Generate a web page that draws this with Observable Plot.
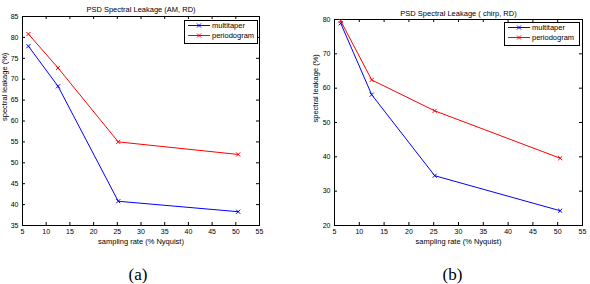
<!DOCTYPE html>
<html>
<head>
<meta charset="utf-8">
<script src="https://cdn.jsdelivr.net/npm/d3@7"></script>
<script src="https://cdn.jsdelivr.net/npm/@observablehq/plot@0.6"></script>
<style>
  html, body { margin: 0; padding: 0; background: #fff; }
  #root { position: relative; width: 590px; height: 284px; overflow: hidden; font-family: "Liberation Sans", Arial, sans-serif; }
  #root > div.panel { position: absolute; top: 0; }
  .legend { position: absolute; background: #fff; border: 1px solid #000; box-sizing: border-box; }
</style>
</head>
<body>
<div id="root"></div>
<script>
// ---- data ----
const xTicks = [5, 10, 15, 20, 25, 30, 35, 40, 45, 50, 55];
const samplingRate = [6.25, 12.5, 25.2, 50.5];

const amMultitaper = [77.9, 68.3, 40.8, 38.3];
const amPeriodogram = [80.8, 72.7, 55.0, 52.0];
const amYTicks = [35, 40, 45, 50, 55, 60, 65, 70, 75, 80, 85];

const chirpMultitaper = [78.9, 58.1, 34.5, 24.3];
const chirpPeriodogram = [79.6, 62.4, 53.4, 39.6];
const chirpYTicks = [20, 30, 40, 50, 60, 70, 80];

const seriesNames = ["multitaper", "periodogram"];
const seriesColors = ["#0000ff", "#ff0000"];

const xLabel = "sampling rate (% Nyquist)";
const yLabel = "spectral leakage (%)";
const titles = ["PSD Spectral Leakage (AM, RD)", "PSD Spectral Leakage ( chirp, RD)"];
const captions = ["(a)", "(b)"];

function makePanel(opts) {
  const {left, width, marginLeft, marginRight, marginTop, marginBottom, yTicks, series, title, caption, titleDy, yLabelDx, yLabelDy, captionDx, legend} = opts;
  const height = 284;
  const frameH = height - marginTop - marginBottom;
  const frameW = width - marginLeft - marginRight;
  const rows = [];
  series.forEach((vals, si) => {
    vals.forEach((v, i) => rows.push({x: samplingRate[i], y: v, s: seriesNames[si]}));
  });
  const yDomain = [yTicks[0], yTicks[yTicks.length - 1]];
  const font = "Liberation Sans, Arial, sans-serif";
  const plot = Plot.plot({
    width, height, marginLeft, marginRight, marginTop, marginBottom,
    style: {fontFamily: font, fontSize: "7px", background: "transparent", overflow: "visible"},
    x: {domain: [5, 55], label: null},
    y: {domain: yDomain, label: null},
    color: {domain: seriesNames, range: seriesColors},
    marks: [
      Plot.frame({stroke: "#000", strokeWidth: 1}),
      // inward ticks on all four sides
      Plot.tickX(xTicks, {x: d => d, insetTop: frameH - 3, stroke: "#000", strokeWidth: 1}),
      Plot.tickX(xTicks, {x: d => d, insetBottom: frameH - 3, stroke: "#000", strokeWidth: 1}),
      Plot.tickY(yTicks, {y: d => d, insetRight: frameW - 3, stroke: "#000", strokeWidth: 1}),
      Plot.tickY(yTicks, {y: d => d, insetLeft: frameW - 3, stroke: "#000", strokeWidth: 1}),
      Plot.axisX({ticks: xTicks, tickSize: 0, tickPadding: 4, label: null, fontSize: 7, fill: "#000"}),
      Plot.axisY({ticks: yTicks, tickSize: 0, tickPadding: 4, label: null, fontSize: 7, fill: "#000"}),
      Plot.line(rows, {x: "x", y: "y", z: "s", stroke: "s", strokeWidth: 1}),
      Plot.dot(rows, {x: "x", y: "y", stroke: "s", symbol: "times", r: 2, strokeWidth: 1}),
      Plot.text([title], {text: d => d, frameAnchor: "top", dy: titleDy, fontSize: 7.5, fill: "#000"}),
      Plot.text([xLabel], {text: d => d, frameAnchor: "bottom", dy: 18, fontSize: 7.5, fill: "#000"}),
      Plot.text([yLabel], {text: d => d, frameAnchor: "left", dx: yLabelDx, dy: yLabelDy, rotate: -90, fontSize: 7.5, fill: "#000"}),
      Plot.text([caption], {text: d => d, frameAnchor: "bottom", dx: captionDx, dy: 54, fontSize: 17, fontFamily: "Liberation Serif, Times New Roman, serif", fill: "#000"})
    ]
  });
  const div = document.createElement("div");
  div.className = "panel";
  div.style.left = left + "px";
  div.style.width = width + "px";
  div.style.height = height + "px";
  div.appendChild(plot);

  // legend overlay (inside plot area, top-right, MATLAB style)
  const lg = document.createElement("div");
  lg.className = "legend";
  lg.style.left = legend.x + "px";
  lg.style.top = legend.y + "px";
  lg.style.width = legend.w + "px";
  lg.style.height = legend.h + "px";
  const svg = d3.create("svg").attr("width", legend.w - 2).attr("height", legend.h - 2)
    .style("position", "absolute").style("left", "0").style("top", "0");
  seriesNames.forEach((name, i) => {
    const cy = 4.5 + i * 10;
    svg.append("line").attr("x1", 3).attr("x2", 25).attr("y1", cy).attr("y2", cy)
      .attr("stroke", seriesColors[i]).attr("stroke-width", 1);
    const cx = 14;
    svg.append("path").attr("d", `M${cx-2},${cy-2}L${cx+2},${cy+2}M${cx-2},${cy+2}L${cx+2},${cy-2}`)
      .attr("stroke", seriesColors[i]).attr("stroke-width", 1);
    svg.append("text").attr("x", 27).attr("y", cy).attr("dy", "0.35em")
      .attr("font-size", 7.5).attr("font-family", font).attr("fill", "#000").text(name);
  });
  lg.appendChild(svg.node());
  div.appendChild(lg);
  return div;
}

const root = document.getElementById("root");
root.appendChild(makePanel({
  left: 0, width: 295, marginLeft: 22, marginRight: 36, marginTop: 16, marginBottom: 59,
  yTicks: amYTicks, series: [amMultitaper, amPeriodogram],
  title: titles[0], caption: captions[0], titleDy: -10, yLabelDx: -18, yLabelDy: 0, captionDx: -3,
  legend: {x: 184, y: 20, w: 74, h: 24}
}));
root.appendChild(makePanel({
  left: 295, width: 295, marginLeft: 39, marginRight: 8, marginTop: 19, marginBottom: 59,
  yTicks: chirpYTicks, series: [chirpMultitaper, chirpPeriodogram],
  title: titles[1], caption: captions[1], titleDy: -9, yLabelDx: -19, yLabelDy: 0, captionDx: -6,
  legend: {x: 209, y: 22, w: 76, h: 24}
}));
</script>
</body>
</html>
